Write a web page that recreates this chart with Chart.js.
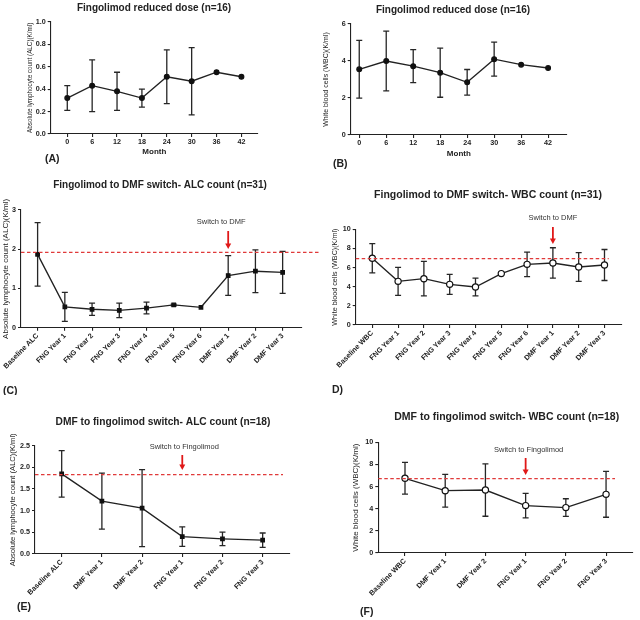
<!DOCTYPE html>
<html><head><meta charset="utf-8">
<script src="https://cdn.jsdelivr.net/npm/chart.js@4.4.1/dist/chart.umd.min.js"></script>
<style>
html,body{margin:0;padding:0;background:#fff;}
body{width:640px;height:620px;position:relative;overflow:hidden;}
canvas{position:absolute;}
</style></head><body>
<canvas id="cA" width="320" height="170" style="left:0;top:0"></canvas>
<canvas id="cB" width="320" height="170" style="left:320px;top:0"></canvas>
<canvas id="cC" width="320" height="225" style="left:0;top:170px"></canvas>
<canvas id="cD" width="320" height="225" style="left:320px;top:170px"></canvas>
<canvas id="cE" width="320" height="225" style="left:0;top:395px"></canvas>
<canvas id="cF" width="320" height="225" style="left:320px;top:395px"></canvas>
<script>
// ---------------- DATA ----------------
const months = [0, 6, 12, 18, 24, 30, 36, 42];
const alcReduced   = [0.32, 0.43, 0.38, 0.32, 0.51, 0.47, 0.55, 0.51];
const alcReducedSD = [0.11, 0.23, 0.17, 0.08, 0.24, 0.30, 0, 0];
const wbcReduced   = [3.55, 4.00, 3.72, 3.37, 2.85, 4.10, 3.80, 3.62];
const wbcReducedSD = [1.56, 1.62, 0.89, 1.33, 0.69, 0.92, 0, 0];

const fngToDmfAlcCats = ['Baseline ALC', 'FNG Year 1', 'FNG Year 2', 'FNG Year 3', 'FNG Year 4', 'FNG Year 5', 'FNG Year 6', 'DMF Year 1', 'DMF Year 2', 'DMF Year 3'];
const fngToDmfWbcCats = ['Baseline WBC', 'FNG Year 1', 'FNG Year 2', 'FNG Year 3', 'FNG Year 4', 'FNG Year 5', 'FNG Year 6', 'DMF Year 1', 'DMF Year 2', 'DMF Year 3'];
const fngToDmfAlc   = [1.87, 0.53, 0.47, 0.44, 0.50, 0.58, 0.52, 1.33, 1.44, 1.41];
const fngToDmfAlcSD = [0.81, 0.37, 0.155, 0.185, 0.15, 0.02, 0, 0.505, 0.545, 0.535];
const fngToDmfWbc   = [6.97, 4.56, 4.84, 4.25, 3.97, 5.37, 6.34, 6.48, 6.06, 6.27];
const fngToDmfWbcSD = [1.53, 1.46, 1.80, 1.05, 0.93, 0, 1.28, 1.59, 1.50, 1.62];

const dmfToFngAlcCats = ['Baseline ALC', 'DMF Year 1', 'DMF Year 2', 'FNG Year 1', 'FNG Year 2', 'FNG Year 3'];
const dmfToFngWbcCats = ['Baseline WBC', 'DMF Year 1', 'DMF Year 2', 'FNG Year 1', 'FNG Year 2', 'FNG Year 3'];
const dmfToFngAlc   = [1.85, 1.22, 1.06, 0.40, 0.35, 0.32];
const dmfToFngAlcSD = [0.535, 0.645, 0.89, 0.225, 0.155, 0.165];
const dmfToFngWbc   = [6.75, 5.63, 5.69, 4.28, 4.10, 5.30];
const dmfToFngWbcSD = [1.43, 1.48, 2.37, 1.115, 0.80, 2.07];

const baselineAlcFngDmf = 1.92;
const baselineWbcFngDmf = 6.93;
const baselineAlcDmfFng = 1.83;
const baselineWbcDmfFng = 6.72;

const ticksAlcReduced = [0, 0.2, 0.4, 0.6, 0.8, 1.0];
const ticksWbcReduced = [0, 2, 4, 6];
const ticksAlc3 = [0, 1, 2, 3];
const ticksWbc10 = [0, 2, 4, 6, 8, 10];
const ticksAlc25 = [0, 0.5, 1.0, 1.5, 2.0, 2.5];

// ---------------- RENDERING ----------------
const FONT = "'Liberation Sans', Arial, Helvetica, sans-serif";
const INK = '#222';
const RED = '#e03a3a';

function makeDecor(cfg) {
  return {
    id: 'decor',
    beforeDatasetsDraw(chart) {
      const ctx = chart.ctx, xs = chart.scales.x, ys = chart.scales.y;
      const pts = chart.data.datasets[0].data;
      ctx.save();
      ctx.strokeStyle = '#262626';
      ctx.lineWidth = 1.3;
      pts.forEach((p, i) => {
        const sd = cfg.sd[i];
        if (!sd) return;
        const x = xs.getPixelForValue(p.x);
        const y1 = ys.getPixelForValue(p.y - sd);
        const y2 = ys.getPixelForValue(p.y + sd);
        ctx.beginPath();
        ctx.moveTo(x, y1); ctx.lineTo(x, y2);
        ctx.moveTo(x - cfg.cap, y1); ctx.lineTo(x + cfg.cap, y1);
        ctx.moveTo(x - cfg.cap, y2); ctx.lineTo(x + cfg.cap, y2);
        ctx.stroke();
      });
      ctx.restore();
    },
    afterDatasetsDraw(chart) {
      const ctx = chart.ctx, xs = chart.scales.x, ys = chart.scales.y, ca = chart.chartArea;
      if (cfg.ref != null) {
        const y = ys.getPixelForValue(cfg.ref);
        ctx.save();
        ctx.strokeStyle = RED;
        ctx.lineWidth = 1.3;
        ctx.setLineDash([3.5, 2.5]);
        ctx.beginPath();
        ctx.moveTo(ca.left, y);
        ctx.lineTo(ca.right + cfg.refExt, y);
        ctx.stroke();
        ctx.setLineDash([]);
        // arrow
        const ax = xs.getPixelForValue(cfg.arrowIdx);
        const tip = y - cfg.tipGap;
        const top = tip - cfg.arrowLen;
        ctx.strokeStyle = '#e01818';
        ctx.fillStyle = '#e01818';
        ctx.lineWidth = 1.8;
        ctx.beginPath();
        ctx.moveTo(ax, top);
        ctx.lineTo(ax, tip - 4);
        ctx.stroke();
        ctx.beginPath();
        ctx.moveTo(ax - 3, tip - 5.5);
        ctx.lineTo(ax + 3, tip - 5.5);
        ctx.lineTo(ax, tip);
        ctx.closePath();
        ctx.fill();
        // note
        ctx.fillStyle = '#333';
        ctx.font = '7.5px ' + FONT;
        ctx.textAlign = 'center';
        ctx.textBaseline = 'middle';
        ctx.fillText(cfg.note, ax + cfg.noteDx, top - cfg.noteGap);
        ctx.restore();
      }
    },
    afterDraw(chart) {
      const ctx = chart.ctx;
      ctx.save();
      ctx.fillStyle = INK;
      ctx.textBaseline = 'middle';
      ctx.textAlign = 'center';
      ctx.font = 'bold ' + cfg.titleSize + 'px ' + FONT;
      ctx.fillText(cfg.title, cfg.titleX, cfg.titleY);
      ctx.textAlign = 'left';
      ctx.font = 'bold 10.5px ' + FONT;
      ctx.fillText(cfg.label, cfg.labelX, cfg.labelY);
      ctx.restore();
    }
  };
}

function build(cfg) {
  const data = cfg.xvals.map((x, i) => ({ x: x, y: cfg.values[i] }));
  const tickFont = { family: FONT, size: 7.2, weight: 'bold' };
  new Chart(document.getElementById(cfg.id), {
    type: 'line',
    data: {
      datasets: [{
        data: data,
        borderColor: INK,
        borderWidth: 1.35,
        tension: 0,
        pointStyle: cfg.pointStyle,
        pointRadius: cfg.pointRadius,
        pointBackgroundColor: cfg.pointFill,
        pointBorderColor: '#111',
        pointBorderWidth: 1.2
      }]
    },
    options: {
      responsive: false,
      animation: false,
      events: [],
      layout: { padding: cfg.pad },
      plugins: { legend: { display: false }, tooltip: { enabled: false }, title: { display: false } },
      scales: {
        x: {
          type: 'linear',
          min: cfg.xmin, max: cfg.xmax,
          afterBuildTicks: s => { s.ticks = cfg.xvals.map(v => ({ value: v })); },
          afterFit: s => { s.height = cfg.xh; s.paddingLeft = 0; s.paddingRight = 0; s.paddingTop = 0; s.paddingBottom = 0; },
          ticks: {
            autoSkip: false, minRotation: cfg.rot, maxRotation: cfg.rot, padding: 1,
            color: INK, font: tickFont,
            callback: (v, i) => cfg.xlabels[i]
          },
          grid: { drawOnChartArea: false, drawTicks: true, tickLength: 3, color: INK, lineWidth: 1.1 },
          border: { color: INK, width: 1.1 },
          title: cfg.xtitle ? { display: true, text: cfg.xtitle, color: INK, padding: 0, font: { family: FONT, size: 8, weight: 'bold' } } : { display: false }
        },
        y: {
          type: 'linear',
          min: 0, max: cfg.yticks[cfg.yticks.length - 1],
          afterBuildTicks: s => { s.ticks = cfg.yticks.map(v => ({ value: v })); },
          afterFit: s => { s.width = cfg.yw; s.paddingTop = 0; s.paddingBottom = 0; s.paddingLeft = 0; s.paddingRight = 0; },
          ticks: { padding: 2, color: INK, font: tickFont, callback: v => cfg.yfmt(v) },
          grid: { drawOnChartArea: false, drawTicks: true, tickLength: 3, color: INK, lineWidth: 1.1 },
          border: { color: INK, width: 1.1 },
          title: { display: true, text: cfg.ytitle, color: INK, padding: 0, font: { family: FONT, size: cfg.ytitleSize, weight: 'normal' } }
        }
      }
    },
    plugins: [makeDecor(cfg)]
  });
}

const fix1 = v => Number(v).toFixed(1);
const plain = v => String(v);
const idx = arr => arr.map((_, i) => i);

build({
  id: 'cA', xvals: months, xlabels: months.map(String), values: alcReduced, sd: alcReducedSD,
  xmin: -4, xmax: 46, rot: 0, xh: 22.8, xtitle: 'Month',
  yticks: ticksAlcReduced, yfmt: fix1, yw: 24.5,
  ytitle: 'Absolute lymphocyte count (ALC)(K/ml)', ytitleSize: 6.3,
  pad: { left: 26.2, top: 21.7, right: 62, bottom: 13.2 },
  pointStyle: 'circle', pointRadius: 2.4, pointFill: '#111', cap: 3,
  title: 'Fingolimod reduced dose (n=16)', titleSize: 10, titleX: 154, titleY: 8,
  label: '(A)', labelX: 45, labelY: 159, ref: null
});

build({
  id: 'cB', xvals: months, xlabels: months.map(String), values: wbcReduced, sd: wbcReducedSD,
  xmin: -1.9, xmax: 46.2, rot: 0, xh: 23.8, xtitle: 'Month',
  yticks: ticksWbcReduced, yfmt: plain, yw: 28.9,
  ytitle: 'White blood cells (WBC)(K/ml)', ytitleSize: 7,
  pad: { left: 1.8, top: 24, right: 73, bottom: 11.2 },
  pointStyle: 'circle', pointRadius: 2.4, pointFill: '#111', cap: 3,
  title: 'Fingolimod reduced dose (n=16)', titleSize: 10, titleX: 133, titleY: 10,
  label: '(B)', labelX: 13, labelY: 164, ref: null
});

build({
  id: 'cC', xvals: idx(fngToDmfAlcCats), xlabels: fngToDmfAlcCats, values: fngToDmfAlc, sd: fngToDmfAlcSD,
  xmin: -0.61, xmax: 9.7, rot: 45, xh: 67.3, xtitle: null,
  yticks: ticksAlc3, yfmt: plain, yw: 19.8,
  ytitle: 'Absolute lymphocyte count (ALC)(K/ml)', ytitleSize: 8,
  pad: { left: 1.2, top: 40, right: 18.3, bottom: 0 },
  pointStyle: 'rect', pointRadius: 2.5, pointFill: '#111', cap: 3,
  title: 'Fingolimod to DMF switch- ALC count (n=31)', titleSize: 10, titleX: 160, titleY: 15,
  label: '(C)', labelX: 3, labelY: 221,
  ref: baselineAlcFngDmf, refExt: 23, arrowIdx: 7, tipGap: 3.4, arrowLen: 18,
  note: 'Switch to DMF', noteDx: -7, noteGap: 9.3
});

build({
  id: 'cD', xvals: idx(fngToDmfWbcCats), xlabels: fngToDmfWbcCats, values: fngToDmfWbc, sd: fngToDmfWbcSD,
  xmin: -0.643, xmax: 9.667, rot: 45, xh: 70, xtitle: null,
  yticks: ticksWbc10, yfmt: plain, yw: 25,
  ytitle: 'White blood cells (WBC)(K/ml)', ytitleSize: 7.2,
  pad: { left: 10.7, top: 59.3, right: 18.3, bottom: 0 },
  pointStyle: 'circle', pointRadius: 3.1, pointFill: '#fff', cap: 3,
  title: 'Fingolimod to DMF switch- WBC count (n=31)', titleSize: 10.5, titleX: 168, titleY: 25,
  label: 'D)', labelX: 12, labelY: 220,
  ref: baselineWbcFngDmf, refExt: -13, arrowIdx: 7, tipGap: 14.7, arrowLen: 17,
  note: 'Switch to DMF', noteDx: 0, noteGap: 9
});

build({
  id: 'cE', xvals: idx(dmfToFngAlcCats), xlabels: dmfToFngAlcCats, values: dmfToFngAlc, sd: dmfToFngAlcSD,
  xmin: -0.664, xmax: 5.68, rot: 45, xh: 66, xtitle: null,
  yticks: ticksAlc25, yfmt: fix1, yw: 26.3,
  ytitle: 'Absolute lymphocyte count (ALC)(K/ml)', ytitleSize: 7.6,
  pad: { left: 8.7, top: 50.7, right: 30, bottom: 0 },
  pointStyle: 'rect', pointRadius: 2.5, pointFill: '#111', cap: 3,
  title: 'DMF to fingolimod switch- ALC count (n=18)', titleSize: 10.2, titleX: 163, titleY: 26.7,
  label: '(E)', labelX: 17, labelY: 211.7,
  ref: baselineAlcDmfFng, refExt: -7, arrowIdx: 3, tipGap: 4.7, arrowLen: 15,
  note: 'Switch to Fingolimod', noteDx: 2, noteGap: 8.3
});

build({
  id: 'cF', xvals: idx(dmfToFngWbcCats), xlabels: dmfToFngWbcCats, values: dmfToFngWbc, sd: dmfToFngWbcSD,
  xmin: -0.664, xmax: 5.67, rot: 45, xh: 67, xtitle: null,
  yticks: ticksWbc10, yfmt: plain, yw: 27.1,
  ytitle: 'White blood cells (WBC)(K/ml)', ytitleSize: 8,
  pad: { left: 31.2, top: 47.3, right: 7, bottom: 0 },
  pointStyle: 'circle', pointRadius: 3.1, pointFill: '#fff', cap: 3,
  title: 'DMF to fingolimod switch- WBC count (n=18)', titleSize: 10.5, titleX: 186.7, titleY: 21.7,
  label: '(F)', labelX: 40, labelY: 216.7,
  ref: baselineWbcDmfFng, refExt: -18, arrowIdx: 3, tipGap: 3.6, arrowLen: 17,
  note: 'Switch to Fingolimod', noteDx: 3, noteGap: 8
});
</script>
</body></html>
